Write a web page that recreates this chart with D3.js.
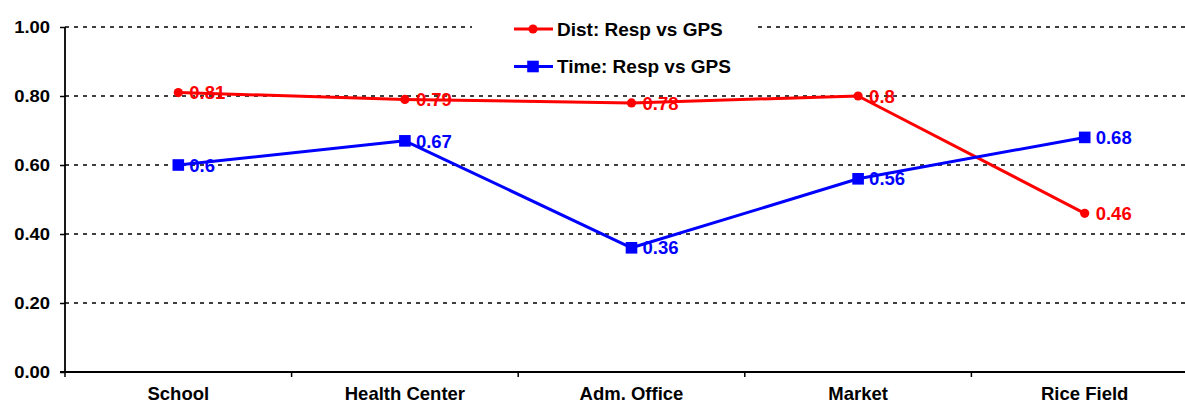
<!DOCTYPE html>
<html>
<head>
<meta charset="utf-8">
<script src="https://cdn.jsdelivr.net/npm/d3@7/dist/d3.min.js"></script>
<style>
  html, body { margin: 0; padding: 0; background: #fff; }
  svg { display: block; font-family: "Liberation Sans", Arial, sans-serif; font-weight: bold; }
</style>
</head>
<body>
<svg id="chart" width="1185" height="405"></svg>
<script>
// Locations compared
const categories = ["School", "Health Center", "Adm. Office", "Market", "Rice Field"];
// Correlation of respondent-reported vs GPS-measured values
const distValues = [0.81, 0.79, 0.78, 0.8, 0.46];
const timeValues = [0.6, 0.67, 0.36, 0.56, 0.68];
const distLabels = ["0.81", "0.79", "0.78", "0.8", "0.46"];
const timeLabels = ["0.6", "0.67", "0.36", "0.56", "0.68"];
const seriesNames = ["Dist: Resp vs GPS", "Time: Resp vs GPS"];
const yTicks = [0, 0.2, 0.4, 0.6, 0.8, 1.0];

const svg = d3.select("#chart");
const plotLeft = 65, plotRight = 1198, plotTop = 27, plotBottom = 372;

const x = d3.scaleBand().domain(categories).range([plotLeft, plotRight]);
const y = d3.scaleLinear().domain([0, 1]).range([plotBottom, plotTop]);
const cx = d => x(d) + x.bandwidth() / 2;

// Dashed horizontal gridlines
svg.append("g")
  .selectAll("line")
  .data(yTicks.filter(t => t > 0))
  .join("line")
  .attr("x1", plotLeft).attr("x2", plotRight)
  .attr("y1", d => y(d)).attr("y2", d => y(d))
  .attr("stroke", "#000")
  .attr("stroke-width", 1.3)
  .attr("stroke-dasharray", "4,5");

// Y axis
const yAxis = svg.append("g")
  .attr("transform", `translate(${plotLeft},0)`)
  .call(d3.axisLeft(y).tickValues(yTicks).tickFormat(d3.format(".2f")).tickSize(5).tickPadding(10));
yAxis.select(".domain").attr("stroke-width", 1.8).attr("d", `M0,${plotTop}V${plotBottom}`);
yAxis.selectAll(".tick line").attr("stroke-width", 1.5);
const ySx = 1.15;
yAxis.selectAll(".tick text")
  .attr("fill", "#000")
  .attr("font-size", 16)
  .attr("font-family", "Liberation Sans, Arial, sans-serif")
  .attr("font-weight", "bold")
  .attr("x", -15 / ySx)
  .attr("dy", "0.36em")
  .attr("transform", `scale(${ySx},1)`);

// X axis with ticks between categories
const xAxis = svg.append("g")
  .attr("transform", `translate(0,${plotBottom})`);
xAxis.append("line")
  .attr("x1", plotLeft - 5).attr("x2", plotRight)
  .attr("y1", 0).attr("y2", 0)
  .attr("stroke", "#000").attr("stroke-width", 1.8);
const boundaries = categories.map(c => x(c)).concat([plotRight]);
xAxis.selectAll("line.tk")
  .data(boundaries)
  .join("line")
  .attr("class", "tk")
  .attr("x1", d => d).attr("x2", d => d)
  .attr("y1", 0).attr("y2", 5)
  .attr("stroke", "#000").attr("stroke-width", 1.5);
xAxis.selectAll("text")
  .data(categories)
  .join("text")
  .attr("x", d => cx(d))
  .attr("y", 28)
  .attr("text-anchor", "middle")
  .attr("font-size", 18.5)
  .attr("fill", "#000")
  .text(d => d);

// Series lines, markers and value labels
const series = [
  { name: seriesNames[0], values: distValues, labels: distLabels, color: "#ff0000", marker: "circle" },
  { name: seriesNames[1], values: timeValues, labels: timeLabels, color: "#0000ff", marker: "square" }
];

const line = d3.line().x((d, i) => cx(categories[i])).y(d => y(d));

function drawMarker(g, type, color, px, py) {
  if (type === "circle") {
    g.append("circle").attr("cx", px).attr("cy", py).attr("r", 4.6).attr("fill", color);
  } else {
    g.append("rect").attr("x", px - 5.8).attr("y", py - 5.8).attr("width", 11.6).attr("height", 11.6).attr("fill", color);
  }
}

series.forEach(s => {
  const g = svg.append("g");
  g.append("path")
    .datum(s.values)
    .attr("d", line)
    .attr("fill", "none")
    .attr("stroke", s.color)
    .attr("stroke-width", 3)
    .attr("stroke-linejoin", "round");
  s.values.forEach((v, i) => drawMarker(g, s.marker, s.color, cx(categories[i]), y(v)));
});

series.forEach(s => {
  svg.append("g")
    .selectAll("text")
    .data(s.values)
    .join("text")
    .attr("x", (d, i) => cx(categories[i]) + 11)
    .attr("y", d => y(d))
    .attr("dy", "0.36em")
    .attr("font-size", 18.5)
    .attr("fill", s.color)
    .text((d, i) => s.labels[i]);
});

// Legend on a white panel
const legend = svg.append("g");
legend.append("rect")
  .attr("x", 472).attr("y", 8).attr("width", 286).attr("height", 78)
  .attr("fill", "#fff");
series.forEach((s, i) => {
  const ly = 29 + i * 37.5;
  legend.append("line")
    .attr("x1", 514).attr("x2", 553)
    .attr("y1", ly).attr("y2", ly)
    .attr("stroke", s.color).attr("stroke-width", 3);
  drawMarker(legend, s.marker, s.color, 533, ly);
  legend.append("text")
    .attr("x", 557).attr("y", ly)
    .attr("dy", "0.36em")
    .attr("font-size", 19)
    .attr("fill", "#000")
    .text(s.name);
});
</script>
</body>
</html>
